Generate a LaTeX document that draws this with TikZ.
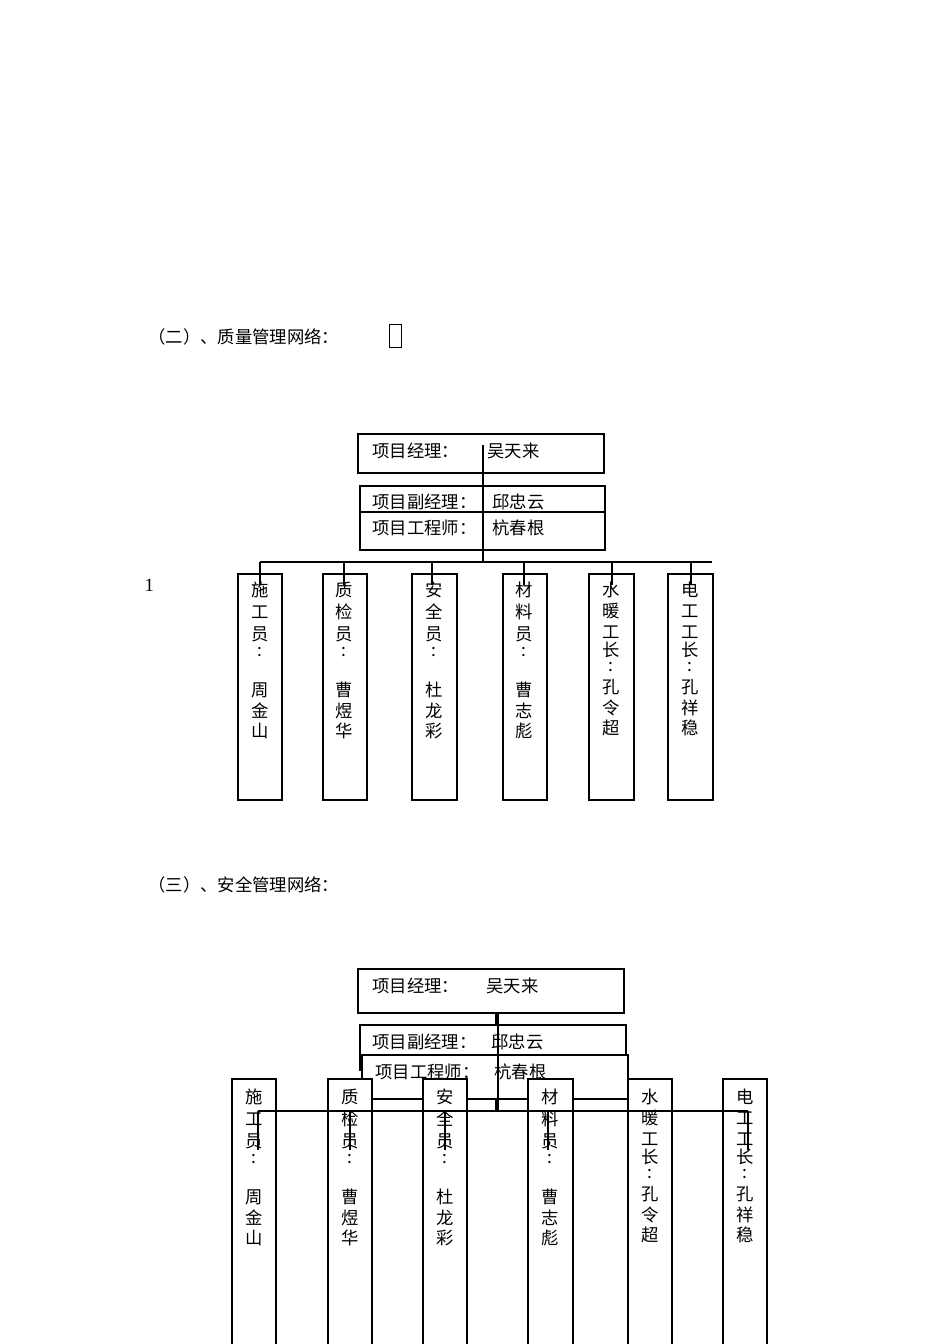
\documentclass[tikz,border=0pt]{standalone}
\usepackage{fontspec}
\setmainfont{Liberation Serif}
\newfontfamily\cjk{Noto Sans CJK SC}
\begin{document}
\begin{tikzpicture}[x=0.75pt,y=-0.75pt,line width=0.9pt,
  bx/.style={draw,fill=white},
  tx/.style={font=\cjk\fontsize{13}{15}\selectfont,inner sep=0pt,anchor=center},
  tl/.style={font=\cjk\fontsize{13}{15}\selectfont,inner sep=0pt,anchor=west}]
\useasboundingbox (0,0) rectangle (950,1344);
% titles
\node[tl] (t2) at (148,337) {（二）、质量管理网络：};
\draw[line width=0.6pt] (389,324) rectangle (401,347);
\node[font=\fontsize{14}{16}\selectfont,anchor=west,inner sep=0pt] (one) at (144,585) {1};
\node[tl] (t3) at (148,885) {（三）、安全管理网络：};
% ---------- chart 1 ----------
\draw[bx] (358,434) rectangle (604,473);
\node[tl] (a1) at (372,451) {项目经理：};
\node[tl] (a2) at (487,451) {吴天来};
\draw[bx] (360,486) rectangle (605,550);
\draw (360,512) -- (605,512);
\node[tl] (b1) at (372,502) {项目副经理：};
\node[tl] (b2) at (492,502) {邱忠云};
\node[tl] (c1) at (372,528) {项目工程师：};
\node[tl] (c2) at (492,528) {杭春根};
\draw (483,445) -- (483,562);
\draw (260,562) -- (712,562);
\foreach \xa/\xb/\xm in {238/282/260,323/367/344,412/457/432,503/547/524,589/634/612,668/713/691}{
  \draw[bx] (\xa,574) rectangle (\xb,800);
  \draw (\xm,562) -- (\xm,585);
}
\newcommand{\colA}[3]{% x, yoffset, list
  \foreach \ch [count=\i] in {#3}{
    \pgfmathsetmacro{\yy}{#2+{0,0,22,44,62,100,121,141}[\i]}
    \node[tx] at (#1,\yy) {\ch};}}
\newcommand{\colB}[3]{%
  \foreach \ch [count=\i] in {#3}{
    \pgfmathsetmacro{\yy}{#2+{0,0,21,42,60,77,97,118,138}[\i]}
    \node[tx] at (#1,\yy) {\ch};}}
\colA{260}{590}{施,工,员,:,周,金,山}
\colA{344}{590}{质,检,员,:,曹,煜,华}
\colA{434}{590}{安,全,员,:,杜,龙,彩}
\colA{524}{590}{材,料,员,:,曹,志,彪}
\colB{611}{590}{水,暖,工,长,:,孔,令,超}
\colB{690}{590}{电,工,工,长,:,孔,祥,稳}
% ---------- chart 2 ----------
\draw[bx] (358,969) rectangle (624,1013);
\node[tl] (d1) at (372,986) {项目经理：};
\node[tl] (d2) at (486,986) {吴天来};
\draw (496,1013) -- (496,1111);
\draw[bx] (360,1025) rectangle (626,1070);
\node[tl] (e1) at (372,1042) {项目副经理：};
\node[tl] (e2) at (491,1042) {邱忠云};
\draw[bx] (362,1055) rectangle (628,1099);
\node[tl] (f1) at (375,1072) {项目工程师：};
\node[tl] (f2) at (494,1072) {杭春根};
\draw (498,1013) -- (498,1111);
\foreach \xa/\xb in {232/276,328/372,423/467,528/573,628/672,723/767}{
  \draw[bx] (\xa,1079) rectangle (\xb,1350);
}
\colA{254}{1097}{施,工,员,:,周,金,山}
\colA{350}{1097}{质,检,员,:,曹,煜,华}
\colA{445}{1097}{安,全,员,:,杜,龙,彩}
\colA{550}{1097}{材,料,员,:,曹,志,彪}
\colB{650}{1097}{水,暖,工,长,:,孔,令,超}
\colB{745}{1097}{电,工,工,长,:,孔,祥,稳}
\draw (258,1111) -- (748,1111);
\foreach \xm in {258,350,445,548,748}{\draw (\xm,1111) -- (\xm,1150);}
\end{tikzpicture}
\end{document}
